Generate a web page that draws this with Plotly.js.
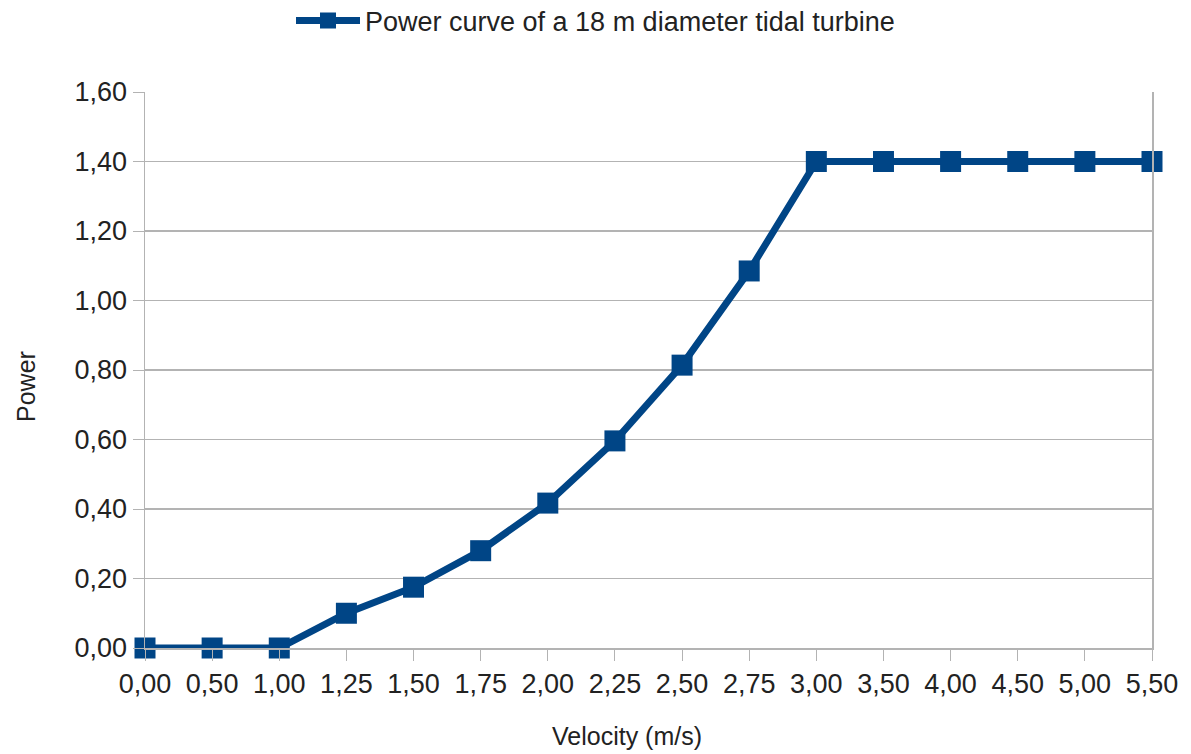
<!DOCTYPE html>
<html>
<head>
<meta charset="utf-8">
<script src="https://cdn.plot.ly/plotly-3.0.1.min.js"></script>
<style>html,body{margin:0;padding:0;background:#fff;}#chart{width:1191px;height:754px;}</style>
</head>
<body>
<div id="chart"></div>
<script>
const velocityLabels = ["0,00","0,50","1,00","1,25","1,50","1,75","2,00","2,25","2,50","2,75","3,00","3,50","4,00","4,50","5,00","5,50"];
const powerValues = [0, 0, 0, 0.10, 0.175, 0.28, 0.417, 0.596, 0.814, 1.085, 1.40, 1.40, 1.40, 1.40, 1.40, 1.40];
const seriesName = "Power curve of a 18 m diameter tidal turbine";
const yTickVals = [0, 0.2, 0.4, 0.6, 0.8, 1.0, 1.2, 1.4, 1.6];
const xTitle = "Velocity (m/s)";
const yTitle = "Power";

const color = "#004586";
const gridColor = "#b3b3b3";
const fontFam = "Liberation Sans, Arial, sans-serif";
const textColor = "#222222";

const trace = {
  type: "scatter",
  mode: "lines+markers",
  x: velocityLabels,
  y: powerValues,
  name: seriesName,
  line: {color: color, width: 7},
  marker: {symbol: "square", size: 21, color: color},
  cliponaxis: false,
  showlegend: true
};

const layout = {
  width: 1191,
  height: 754,
  margin: {l: 145, r: 39, t: 92, b: 106, autoexpand: false},
  paper_bgcolor: "#fff",
  plot_bgcolor: "#fff",
  separators: ", ",
  font: {family: fontFam, size: 27, color: textColor},
  showlegend: true,
  legend: {
    orientation: "h",
    xref: "container",
    x: 0.5, xanchor: "center",
    y: 1.128, yanchor: "middle",
    font: {size: 27, color: textColor},
    itemwidth: 64
  },
  xaxis: {
    type: "category",
    range: [0, 15],
    showgrid: false,
    showline: true,
    linecolor: gridColor,
    linewidth: 1.5,
    ticks: "outside",
    ticklen: 11,
    tickcolor: gridColor,
    tickfont: {size: 27, color: textColor},
    zeroline: false,
    fixedrange: true,
    automargin: false
  },
  yaxis: {
    range: [0, 1.6],
    tickvals: yTickVals,
    tickformat: ".2f",
    showgrid: true,
    gridcolor: gridColor,
    gridwidth: 1.5,
    showline: true,
    mirror: true,
    linecolor: gridColor,
    linewidth: 1.5,
    ticks: "outside",
    ticklen: 11,
    tickcolor: gridColor,
    tickfont: {size: 27, color: textColor},
    zeroline: false,
    fixedrange: true,
    automargin: false
  },
  annotations: [
    {
      text: xTitle, showarrow: false,
      xref: "paper", yref: "paper",
      x: (627 - 145) / 1007, y: -(736 - 648) / 556,
      xanchor: "center", yanchor: "middle",
      font: {size: 25, color: textColor}
    },
    {
      text: yTitle, showarrow: false, textangle: -90,
      xref: "paper", yref: "paper",
      x: (26 - 145) / 1007, y: (648 - 387) / 556,
      xanchor: "center", yanchor: "middle",
      font: {size: 25, color: textColor}
    }
  ]
};

Plotly.newPlot("chart", [trace], layout, {displayModeBar: false, staticPlot: true});
</script>
</body>
</html>
